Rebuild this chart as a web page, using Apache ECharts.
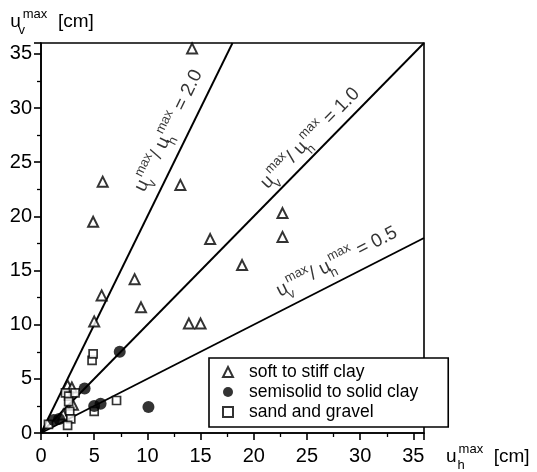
<!DOCTYPE html>
<html>
<head>
<meta charset="utf-8">
<script src="https://cdn.jsdelivr.net/npm/echarts@6/dist/echarts.min.js"></script>
<style>
  html, body { margin: 0; padding: 0; background: #fff; }
  #main { width: 537px; height: 472px; }
</style>
</head>
<body>
<div id="main"></div>
<script>
// data (cm)
var softClay = [[14.2,35.5],[5.8,23.2],[13.1,22.9],[4.9,19.5],[8.8,14.2],[5.7,12.7],[9.4,11.6],
  [22.7,20.3],[22.7,18.1],[15.9,17.9],[18.9,15.5],[13.9,10.1],[15.0,10.1],[5.0,10.3],
  [2.5,4.4],[2.9,4.2],[3.0,2.6],[2.1,1.7]];
var solidClay = [[7.4,7.5],[4.1,4.1],[5.0,2.5],[5.6,2.7],[10.1,2.4],[1.2,1.2],[1.7,1.3]];
var sandGravel = [[0.7,0.8],[2.3,3.7],[2.6,3.4],[3.2,3.7],[2.6,2.9],[2.7,2.0],[2.8,1.3],[2.5,0.7],
  [5.0,2.0],[7.1,3.0],[4.8,6.7],[4.9,7.3]];
var ratios = [2.0, 1.0, 0.5];
var ratioLabels = ['2.0', '1.0', '0.5'];
var legendNames = ['soft to stiff clay', 'semisolid to solid clay', 'sand and gravel'];

var FONT = 'Liberation Sans, Arial, sans-serif';
var chart = echarts.init(document.getElementById('main'));

var rich = {
  u: { fontSize: 19, fontFamily: FONT, color: '#000', lineHeight: 22, verticalAlign: 'middle' },
  sub: { fontSize: 13, fontFamily: FONT, color: '#000', width: 0, align: 'left', verticalAlign: 'bottom', lineHeight: 22, padding: [0,0,-4,1] },
  sup: { fontSize: 13, fontFamily: FONT, color: '#000', verticalAlign: 'top', lineHeight: 22, padding: [-3,0,0,1] },
  t: { fontSize: 19, fontFamily: FONT, color: '#000', lineHeight: 22, verticalAlign: 'middle' }
};

// ratio lines through the origin, clipped at the 36 x 36 box
var lineSeries = ratios.map(function (r) {
  var end = r >= 1 ? [36 / r, 36] : [36, 36 * r];
  return {
    type: 'line', data: [[0, 0], end], symbol: 'none', silent: true,
    lineStyle: { color: '#000', width: 1.9 }, z: 1
  };
});

// labels along the ratio lines
var labelAt = [[12.0, 27.9], [25.3, 27.2], [27.8, 15.8]];
var labelRot = [64, 45.7, 27.1];
var labelSeries = ratios.map(function (r, i) {
  return {
    type: 'scatter', symbolSize: 0, silent: true,
    data: [labelAt[i]],
    label: {
      show: true, position: 'inside', rotate: labelRot[i],
      formatter: '{u|u}{sub|v}{sup|max}{t|/ u}{sub|h}{sup|max}{t| = ' + ratioLabels[i] + '}',
      rich: rich
    }
  };
});

var option = {
  animation: false,
  textStyle: { fontFamily: FONT, color: '#000' },
  grid: { left: 41, right: 113, top: 43, bottom: 35, show: true, borderColor: '#000', borderWidth: 1.6, backgroundColor: 'transparent' },
  legend: {
    orient: 'vertical', left: 209, top: 358,
    backgroundColor: '#fff', borderColor: '#000', borderWidth: 1.6,
    padding: [5, 30, 6, 13], itemGap: 2, itemWidth: 10, itemHeight: 10,
    data: legendNames,
    textStyle: { fontSize: 17.5, fontFamily: FONT, color: '#000', padding: [0, 0, 0, 11] }
  },
  xAxis: {
    type: 'value', min: 0, max: 36, interval: 5,
    name: '{u|u}{sub|h}{sup|max}{t|  [cm]}', nameLocation: 'end', nameGap: 22,
    nameTextStyle: { rich: rich, align: 'left', padding: [48, 0, 0, 0] },
    axisLine: { lineStyle: { color: '#000', width: 1.6 } },
    axisTick: { length: 7, lineStyle: { color: '#000', width: 1.6 } },
    minorTick: { show: true, splitNumber: 2, length: 4, lineStyle: { color: '#000', width: 1.3 } },
    axisLabel: { fontSize: 20, color: '#000', fontFamily: FONT, margin: 13, showMaxLabel: false },
    splitLine: { show: false }
  },
  yAxis: {
    type: 'value', min: 0, max: 36, interval: 5,
    name: '{u|u}{sub|v}{sup|max}{t|  [cm]}', nameLocation: 'end', nameGap: 10,
    nameTextStyle: { rich: rich, align: 'center', padding: [0, 0, 0, 22] },
    axisLine: { lineStyle: { color: '#000', width: 1.6 } },
    axisTick: { length: 7, lineStyle: { color: '#000', width: 1.6 } },
    minorTick: { show: true, splitNumber: 2, length: 4, lineStyle: { color: '#000', width: 1.3 } },
    axisLabel: { fontSize: 20, color: '#000', fontFamily: FONT, margin: 9, showMaxLabel: false },
    splitLine: { show: false }
  },
  series: lineSeries.concat(labelSeries).concat([
    {
      name: legendNames[0], type: 'scatter', data: softClay, symbol: 'triangle', symbolSize: 10,
      itemStyle: { color: '#fff', borderColor: '#000', borderWidth: 2 }, z: 3
    },
    {
      name: legendNames[1], type: 'scatter', data: solidClay, symbol: 'circle', symbolSize: 12,
      itemStyle: { color: '#000', borderColor: '#000', borderWidth: 0 }, z: 4
    },
    {
      name: legendNames[2], type: 'scatter', data: sandGravel, symbol: 'rect', symbolSize: 8,
      itemStyle: { color: '#fff', borderColor: '#000', borderWidth: 1.7 }, z: 3
    }
  ])
};
chart.setOption(option);
</script>
</body>
</html>
